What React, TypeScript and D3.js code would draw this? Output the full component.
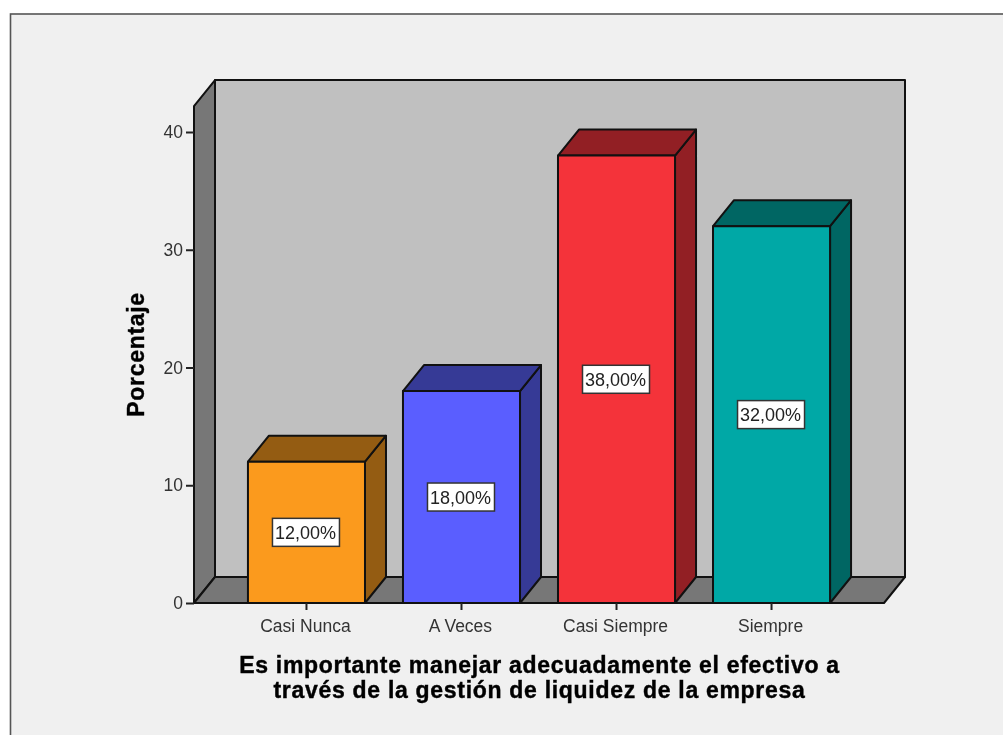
import React, { useRef, useEffect } from 'react';
import * as d3 from 'd3';

const categories = ['Casi Nunca', 'A Veces', 'Casi Siempre', 'Siempre'];
const percentages = [12, 18, 38, 32];
const valueLabels = ['12,00%', '18,00%', '38,00%', '32,00%'];
const frontColors = ['#fb9a1d', '#5a5eff', '#f4333a', '#00a8a6'];
const sideColors = ['#945c12', '#363a96', '#921f24', '#006663'];
const yTicks = [0, 10, 20, 30, 40];
const xTitleLines = [
  'Es importante manejar adecuadamente el efectivo a',
  'través de la gestión de liquidez de la empresa',
];
const yTitle = 'Porcentaje';

const WIDTH = 1003;
const HEIGHT = 735;
const FONT = '"Liberation Sans", Arial, sans-serif';

export default function App() {
  const svgRef = useRef<SVGSVGElement>(null);

  useEffect(() => {
    if (!svgRef.current) return;

    const svg = d3.select(svgRef.current);
    svg.selectAll('*').remove();

    const left = 194;
    const right = 884;
    const base = 603;
    const depthX = 21;
    const depthY = 26;

    const xScale = d3.scaleBand<string>()
      .domain(categories)
      .range([left, right])
      .paddingInner(0.245)
      .paddingOuter(0.348);

    const yScale = d3.scaleLinear()
      .domain([0, 40])
      .range([base, 132]);

    const top = yScale(42.2);
    const line = d3.line();
    const poly = (pts: [number, number][]) => line(pts) + 'Z';

    // fondo y marco
    svg.append('rect')
      .attr('x', 10.5)
      .attr('y', 14)
      .attr('width', WIDTH)
      .attr('height', HEIGHT)
      .attr('fill', '#f0f0f0')
      .attr('stroke', '#555')
      .attr('stroke-width', 1.6);

    const walls = svg.append('g')
      .attr('stroke', '#111')
      .attr('stroke-width', 2)
      .attr('stroke-linejoin', 'round');

    walls.append('path')
      .attr('d', poly([[left + depthX, top - depthY], [right + depthX, top - depthY], [right + depthX, base - depthY], [left + depthX, base - depthY]]))
      .attr('fill', '#c0c0c0');
    walls.append('path')
      .attr('d', poly([[left, top], [left + depthX, top - depthY], [left + depthX, base - depthY], [left, base]]))
      .attr('fill', '#777777');
    walls.append('path')
      .attr('d', poly([[left, base], [left + depthX, base - depthY], [right + depthX, base - depthY], [right, base]]))
      .attr('fill', '#777777');

    // barras en 3D
    categories.forEach((cat, i) => {
      const x0 = xScale(cat) as number;
      const x1 = x0 + xScale.bandwidth();
      const y = yScale(percentages[i]);
      const bar = svg.append('g')
        .attr('stroke', '#111')
        .attr('stroke-width', 2)
        .attr('stroke-linejoin', 'round');

      bar.append('path')
        .attr('d', poly([[x1, y], [x1 + depthX, y - depthY], [x1 + depthX, base - depthY], [x1, base]]))
        .attr('fill', sideColors[i]);
      bar.append('path')
        .attr('d', poly([[x0, y], [x0 + depthX, y - depthY], [x1 + depthX, y - depthY], [x1, y]]))
        .attr('fill', sideColors[i]);
      bar.append('path')
        .attr('d', poly([[x0, y], [x1, y], [x1, base], [x0, base]]))
        .attr('fill', frontColors[i]);

      const cx = (x0 + x1) / 2;
      const cy = yScale(percentages[i] / 2);
      svg.append('rect')
        .attr('x', cx - 34)
        .attr('y', cy - 14)
        .attr('width', 67)
        .attr('height', 28)
        .attr('fill', '#fff')
        .attr('stroke', '#333')
        .attr('stroke-width', 1.5);
      svg.append('text')
        .attr('x', cx - 1)
        .attr('y', cy + 6.5)
        .attr('text-anchor', 'middle')
        .attr('font-family', FONT)
        .attr('font-size', 18)
        .attr('fill', '#222')
        .text(valueLabels[i]);
    });

    const yAxis = d3.axisLeft(yScale)
      .tickValues(yTicks)
      .tickSize(8)
      .tickPadding(3);
    const xAxis = d3.axisBottom(xScale)
      .tickSize(7)
      .tickPadding(10);

    const gy = svg.append('g')
      .attr('transform', `translate(${left},0)`)
      .call(yAxis);
    const gx = svg.append('g')
      .attr('transform', `translate(0,${base})`)
      .call(xAxis);

    [gy, gx].forEach(axis => {
      axis.select('.domain').remove();
      axis.selectAll('line').attr('stroke', '#222').attr('stroke-width', 2);
      axis.selectAll('text')
        .attr('font-family', FONT)
        .attr('font-size', 17.5)
        .attr('fill', '#333');
    });
    gx.selectAll('text').attr('dx', -1);

    svg.append('text')
      .attr('transform', 'translate(143.5,354.5) rotate(-90)')
      .attr('text-anchor', 'middle')
      .attr('font-family', FONT)
      .attr('font-weight', 'bold')
      .attr('font-size', 23)
      .attr('letter-spacing', 0.7)
      .attr('fill', '#000')
      .attr('stroke', '#000')
      .attr('stroke-width', 0.4)
      .text(yTitle);

    xTitleLines.forEach((t, i) => {
      svg.append('text')
        .attr('x', 539.5)
        .attr('y', 673 + i * 25)
        .attr('text-anchor', 'middle')
        .attr('font-family', FONT)
        .attr('font-weight', 'bold')
        .attr('font-size', 23)
        .attr('letter-spacing', 0.7)
        .attr('fill', '#000')
        .attr('stroke', '#000')
        .attr('stroke-width', 0.4)
        .text(t);
    });
  }, []);

  return (
    <svg
      ref={svgRef}
      width={WIDTH}
      height={HEIGHT}
      style={{ position: 'absolute', left: 0, top: 0, display: 'block', background: '#fff', filter: 'blur(0.4px)' }}
    />
  );
}
